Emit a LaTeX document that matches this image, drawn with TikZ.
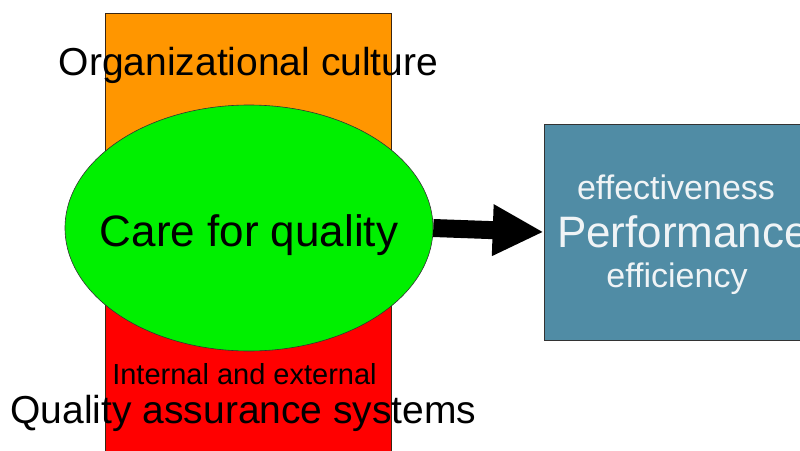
\documentclass[tikz,border=0pt]{standalone}
\usepackage{fontspec}
\setmainfont{Liberation Sans}
\usepackage{tikz}
\usetikzlibrary{shapes.geometric,arrows.meta}
\definecolor{orangebox}{RGB}{255,150,0}
\definecolor{redbox}{RGB}{255,0,0}
\definecolor{greenell}{RGB}{0,240,0}
\definecolor{bluebox}{RGB}{80,140,165}
\definecolor{boxtext}{RGB}{240,244,246}

\begin{document}
\begin{tikzpicture}[x=1pt,y=-1pt,
  label/.style={anchor=base,inner sep=0pt},
  big/.style={font=\fontsize{39}{47}\selectfont},
  small/.style={font=\fontsize{29}{35}\selectfont}]
\useasboundingbox (0,0) rectangle (800,450);
\clip (0,0) rectangle (800,450);

% culture and systems column
\fill[orangebox] (105,13) rectangle (391,230);
\fill[redbox] (105,230) rectangle (391,452);
\draw[black!70!brown,line width=0.6pt] (105,452) -- (105,13) -- (391,13) -- (391,452);

\node[ellipse,draw=black!80,line width=0.6pt,fill=greenell,
  minimum width=368pt,minimum height=246pt,inner sep=0pt] (care) at (249,228) {};
\node[label,font=\fontsize{44}{52}\selectfont] at (249,246) {Care for quality};

\node[label,big] (culture) at (248.5,75) {Organizational culture};
\node[label,small] (internal) at (244.5,384) {Internal and external};
\node[label,big] (systems) at (243.5,423) {Quality assurance systems};

% performance box
\node[draw=black!80,line width=0.6pt,fill=bluebox,minimum width=264pt,
  minimum height=216pt,inner sep=0pt] (perf) at (676,232) {};
\node[label,boxtext,font=\fontsize{34}{40}\selectfont] at (676,199) {effectiveness};
\node[label,boxtext,font=\fontsize{44}{52}\selectfont] at (683,247) {Performance};
\node[label,boxtext,font=\fontsize{34}{40}\selectfont] at (677,287) {efficiency};

\draw[line width=18pt,-{Triangle[length=51pt,width=48pt]}] (care.east) -- (perf.west);
\end{tikzpicture}
\end{document}
